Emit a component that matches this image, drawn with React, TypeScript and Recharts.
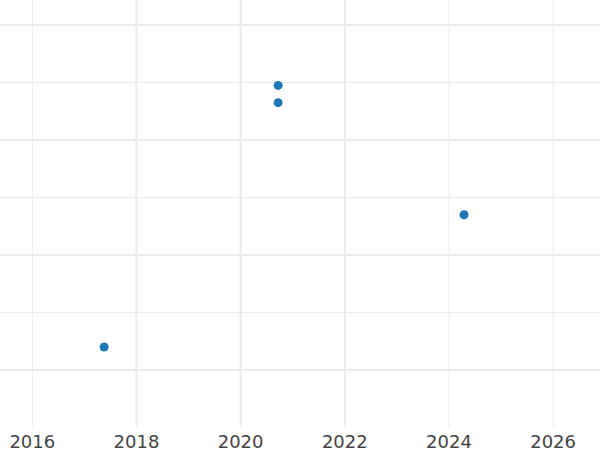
import { ReferenceLine, Scatter, ScatterChart, XAxis, YAxis } from "recharts";

const years = [2017.38, 2020.72, 2020.72, 2024.29];
const values = [0.4, 4.95, 4.65, 2.7];

const xTicks = [2016, 2018, 2020, 2022, 2024, 2026];
const xMajor = [2018, 2020, 2022];
const xMinor = [2016, 2024, 2026];
const yMajor = [0, 2, 4, 6];
const yMinor = [1, 3, 5];

const xDomain = [2015.38, 2026.9];
const yDomain = [-0.99, 6.435];

const data = years.map((x, i) => ({ x, y: values[i] }));

const gridColor = "#ebebeb";

export default function App() {
  return (
    <div style={{ position: "absolute", left: 0, top: 0, width: 600, height: 450, background: "#fff" }}>
      <ScatterChart width={600} height={450} margin={{ top: 0, right: 0, bottom: 0, left: 0 }}>
        <XAxis
          dataKey="x"
          type="number"
          domain={xDomain}
          ticks={xTicks}
          allowDataOverflow
          height={23}
          axisLine={false}
          tickLine={false}
          tickSize={0}
          tickMargin={8}
          tick={{ fill: "#444444", fontSize: 18, fontFamily: "DejaVu Sans" }}
        />
        <YAxis dataKey="y" type="number" domain={yDomain} allowDataOverflow hide />
        {xMinor.map((v) => (
          <ReferenceLine key={"xm" + v} x={v} stroke={gridColor} strokeWidth={1} />
        ))}
        {xMajor.map((v) => (
          <ReferenceLine key={"xM" + v} x={v} stroke={gridColor} strokeWidth={2} />
        ))}
        {yMinor.map((v) => (
          <ReferenceLine key={"ym" + v} y={v} stroke={gridColor} strokeWidth={1} />
        ))}
        {yMajor.map((v) => (
          <ReferenceLine key={"yM" + v} y={v} stroke={gridColor} strokeWidth={2} />
        ))}
        <Scatter data={data} fill="#1f77b4" isAnimationActive={false} />
      </ScatterChart>
    </div>
  );
}
